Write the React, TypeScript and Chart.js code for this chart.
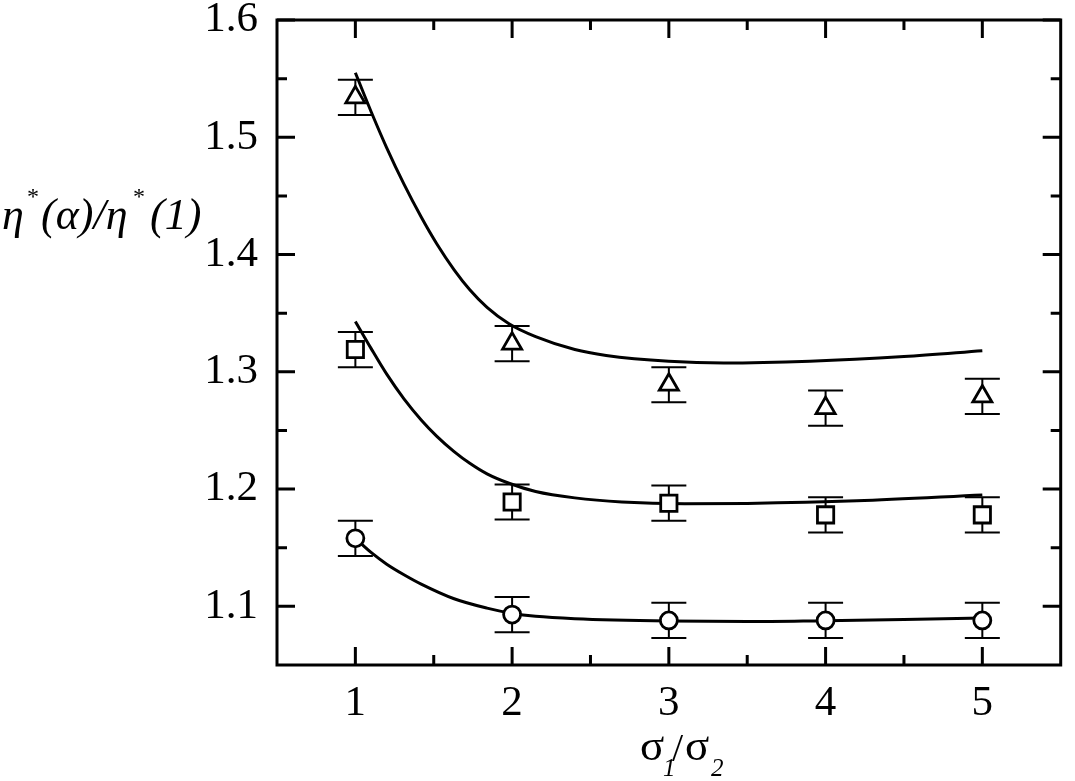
import { useEffect, useRef } from 'react'
import { Chart, registerables } from 'chart.js'
import type { ChartOptions, Plugin } from 'chart.js'

Chart.register(...registerables)

// measured points (sigma1/sigma2)
const ratios = [1, 2, 3, 4, 5]
const triangleValues = [1.534, 1.324, 1.289, 1.269, 1.279]
const triangleErrors = [0.015, 0.015, 0.015, 0.015, 0.015]
const squareValues = [1.319, 1.189, 1.188, 1.178, 1.178]
const squareErrors = [0.015, 0.015, 0.015, 0.015, 0.015]
const circleValues = [1.158, 1.093, 1.088, 1.088, 1.088]
const circleErrors = [0.015, 0.015, 0.015, 0.015, 0.015]

// fitted curves
const upperFitX = [1, 1.1, 1.2, 1.31, 1.42, 1.52, 1.63, 1.73, 1.84, 1.98, 2.15, 2.4, 2.6, 3.0, 3.35, 3.9, 4.5, 5.0]
const upperFitY = [1.555, 1.522, 1.491, 1.46, 1.432, 1.409, 1.387, 1.37, 1.355, 1.341, 1.33, 1.319, 1.314, 1.309, 1.3075, 1.309, 1.313, 1.318]
const middleFitX = [1, 1.1, 1.2, 1.31, 1.42, 1.52, 1.63, 1.73, 1.84, 1.98, 2.15, 2.4, 2.7, 3.1, 3.5, 4.2, 5.0]
const middleFitY = [1.343, 1.32, 1.298, 1.277, 1.259, 1.245, 1.232, 1.222, 1.213, 1.205, 1.198, 1.1925, 1.189, 1.1875, 1.1878, 1.19, 1.195]
const lowerFitX = [1, 1.1, 1.2, 1.31, 1.42, 1.63, 1.84, 2.0, 2.15, 2.4, 3.0, 3.5, 4.0, 4.5, 5.0]
const lowerFitY = [1.158, 1.146, 1.136, 1.127, 1.119, 1.1065, 1.0985, 1.094, 1.0915, 1.0895, 1.0875, 1.087, 1.0878, 1.0888, 1.09]

// axis ticks
const xTicks = [1, 2, 3, 4, 5]
const xMinorTicks = [1.5, 2.5, 3.5, 4.5]
const yTicks = [1.1, 1.2, 1.3, 1.4, 1.5, 1.6]
const yMinorTicks = [1.15, 1.25, 1.35, 1.45, 1.55]

const SERIF = "'Liberation Serif', 'Times New Roman', serif"
const CAP = 17.5

const errorSeries = [
  { values: triangleValues, errors: triangleErrors },
  { values: squareValues, errors: squareErrors },
  { values: circleValues, errors: circleErrors },
]

const toPoints = (xs: number[], ys: number[]) => xs.map((v, i) => ({ x: v, y: ys[i] }))

const framePlugin: Plugin = {
  id: 'frame',
  beforeDatasetsDraw(chart) {
    const { ctx } = chart
    const x = chart.scales.x
    const y = chart.scales.y
    ctx.save()
    ctx.strokeStyle = '#000'
    ctx.lineWidth = 2
    errorSeries.forEach((s) => {
      ratios.forEach((r, i) => {
        const px = x.getPixelForValue(r)
        const top = y.getPixelForValue(s.values[i] + s.errors[i])
        const bot = y.getPixelForValue(s.values[i] - s.errors[i])
        ctx.beginPath()
        ctx.moveTo(px, top)
        ctx.lineTo(px, bot)
        ctx.moveTo(px - CAP, top)
        ctx.lineTo(px + CAP, top)
        ctx.moveTo(px - CAP, bot)
        ctx.lineTo(px + CAP, bot)
        ctx.stroke()
      })
    })
    ctx.restore()
  },
  afterDraw(chart) {
    const { ctx, chartArea: a } = chart
    const x = chart.scales.x
    const y = chart.scales.y
    ctx.save()
    ctx.strokeStyle = '#000'
    ctx.lineCap = 'butt'

    // inward ticks on all four sides
    ctx.lineWidth = 3
    const tick = (vals: number[], len: number) => {
      vals.forEach((v) => {
        const px = x.getPixelForValue(v)
        ctx.beginPath()
        ctx.moveTo(px, a.bottom)
        ctx.lineTo(px, a.bottom - len)
        ctx.moveTo(px, a.top)
        ctx.lineTo(px, a.top + len)
        ctx.stroke()
      })
    }
    const ytick = (vals: number[], len: number) => {
      vals.forEach((v) => {
        const py = y.getPixelForValue(v)
        ctx.beginPath()
        ctx.moveTo(a.left, py)
        ctx.lineTo(a.left + len, py)
        ctx.moveTo(a.right, py)
        ctx.lineTo(a.right - len, py)
        ctx.stroke()
      })
    }
    tick(xTicks, 18)
    tick(xMinorTicks, 10)
    ytick(yTicks, 18)
    ytick(yMinorTicks, 10)

    ctx.lineWidth = 3
    ctx.strokeRect(a.left, a.top, a.right - a.left, a.bottom - a.top)

    // y axis title: η*(α)/η*(1)
    ctx.fillStyle = '#000'
    ctx.textBaseline = 'alphabetic'
    ctx.textAlign = 'left'
    const big = `italic 44px ${SERIF}`
    const sup = `24px ${SERIF}`
    ctx.font = big
    ctx.fillText('η', 2, 229)
    ctx.font = sup
    ctx.fillText('*', 27, 204)
    ctx.font = big
    ctx.fillText('(α)/η', 41, 229)
    ctx.font = sup
    ctx.fillText('*', 133, 204)
    ctx.font = big
    ctx.fillText('(1)', 150, 229)

    // x axis title: σ1/σ2
    ctx.font = `100px ${SERIF}`
    const sigSize = Math.round((100 * 24) / ctx.measureText('σ').width)
    const sig = `${sigSize}px ${SERIF}`
    const sub = `italic 25px ${SERIF}`
    ctx.font = sig
    ctx.fillText('σ', 640, 760)
    ctx.font = sub
    ctx.fillText('1', 663, 776)
    ctx.font = `40px ${SERIF}`
    ctx.fillText('/', 672, 761)
    ctx.font = sig
    ctx.fillText('σ', 685, 760)
    ctx.font = sub
    ctx.fillText('2', 711, 776)
    ctx.restore()
  },
}

export default function App() {
  const chartRef = useRef<HTMLCanvasElement>(null)
  const chartInstance = useRef<Chart | null>(null)

  useEffect(() => {
    if (!chartRef.current) return
    if (chartInstance.current) {
      chartInstance.current.destroy()
    }
    const ctx = chartRef.current.getContext('2d')
    if (!ctx) return

    const markerStyle = {
      showLine: false,
      borderColor: '#000',
      backgroundColor: '#fff',
      borderWidth: 2.8,
      pointBorderWidth: 2.8,
    }
    const curveStyle = {
      showLine: true,
      borderColor: '#000',
      borderWidth: 3,
      pointRadius: 0,
      cubicInterpolationMode: 'monotone' as const,
      fill: false,
    }

    const options: ChartOptions<'scatter'> = {
      responsive: true,
      maintainAspectRatio: false,
      animation: false,
      layout: { padding: { left: 0, top: 20, right: 5, bottom: 0 } },
      plugins: {
        legend: { display: false },
        tooltip: { enabled: false },
      },
      scales: {
        x: {
          type: 'linear',
          min: 0.5,
          max: 5.5,
          grid: { display: false, drawTicks: false },
          border: { display: false },
          afterBuildTicks: (scale) => {
            scale.ticks = xTicks.map((v) => ({ value: v }))
          },
          afterFit: (scale) => {
            scale.height = 116
            scale.paddingLeft = 0
            scale.paddingRight = 0
          },
          ticks: {
            color: '#000',
            padding: 13,
            maxRotation: 0,
            font: { family: SERIF, size: 43 },
            callback: (v) => String(v),
          },
        },
        y: {
          type: 'linear',
          min: 1.05,
          max: 1.6,
          grid: { display: false, drawTicks: false },
          border: { display: false },
          afterBuildTicks: (scale) => {
            scale.ticks = yTicks.map((v) => ({ value: v }))
          },
          afterFit: (scale) => {
            scale.width = 277
            scale.paddingTop = 0
            scale.paddingBottom = 0
          },
          ticks: {
            color: '#000',
            padding: 19,
            font: { family: SERIF, size: 43 },
            callback: (v) => Number(v).toFixed(1),
          },
        },
      },
    }

    chartInstance.current = new Chart(ctx, {
      type: 'scatter',
      data: {
        datasets: [
          {
            ...markerStyle,
            data: toPoints(ratios, triangleValues),
            pointStyle: 'triangle',
            pointRadius: 11,
          },
          {
            ...markerStyle,
            data: toPoints(ratios, squareValues),
            pointStyle: 'rect',
            pointRadius: 11.5,
          },
          {
            ...markerStyle,
            data: toPoints(ratios, circleValues),
            pointStyle: 'circle',
            pointRadius: 8.5,
          },
          { ...curveStyle, data: toPoints(upperFitX, upperFitY) },
          { ...curveStyle, data: toPoints(middleFitX, middleFitY) },
          { ...curveStyle, data: toPoints(lowerFitX, lowerFitY) },
        ],
      },
      options,
      plugins: [framePlugin],
    })

    return () => {
      if (chartInstance.current) {
        chartInstance.current.destroy()
        chartInstance.current = null
      }
    }
  }, [])

  return (
    <div style={{ position: 'fixed', left: 0, top: 0, width: '1075px', height: '781px', background: '#fff' }}>
      <canvas ref={chartRef} />
    </div>
  )
}
